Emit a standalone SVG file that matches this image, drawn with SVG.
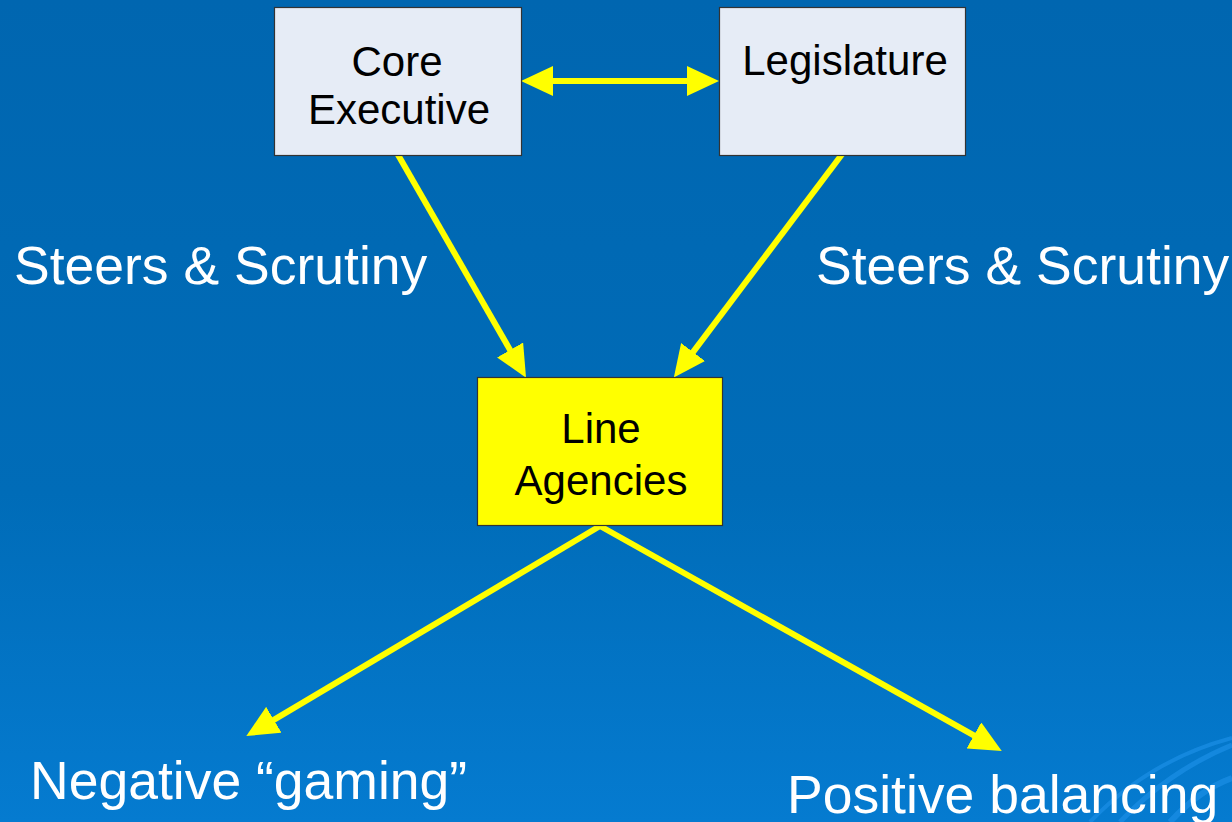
<svg xmlns="http://www.w3.org/2000/svg" width="1232" height="822" viewBox="0 0 1232 822">
<defs>
<linearGradient id="bg" x1="0" y1="0" x2="0" y2="1">
<stop offset="0" stop-color="#0066b0"/>
<stop offset="0.6" stop-color="#006cb8"/>
<stop offset="1" stop-color="#057bd0"/>
</linearGradient>
<radialGradient id="glow" cx="0.5" cy="1" r="0.5">
<stop offset="0" stop-color="#1a8fe0" stop-opacity="0.6"/>
<stop offset="1" stop-color="#1a8fe0" stop-opacity="0"/>
</radialGradient>
<marker id="ah" markerUnits="userSpaceOnUse" viewBox="0 0 32 30" markerWidth="32" markerHeight="30" refX="2" refY="15" orient="auto-start-reverse">
<path d="M0,0 L32,15 L0,30 z" fill="#ffff00"/>
</marker>
<style>
.box{stroke:#333333;stroke-width:1.2}
.grey{fill:#e6ecf6}
.yel{fill:#ffff00}
.bt{font-family:"Liberation Sans",Arial,sans-serif;font-size:42px;fill:#000000;text-anchor:middle}
.lt{font-family:"Liberation Sans",Arial,sans-serif;font-size:53.5px;fill:#ffffff}
.con{stroke:#ffff00;stroke-width:6;fill:none;marker-end:url(#ah)}
.sw{fill:none;stroke:#1b8fe6;stroke-opacity:0.7}
</style>
</defs>
<rect width="1232" height="822" fill="url(#bg)"/>
<ellipse cx="560" cy="822" rx="260" ry="20" fill="url(#glow)"/>
<g id="swoosh">
<path class="sw" stroke-width="5" d="M1120,822 C1150,790 1190,762 1232,745"/>
<path class="sw" stroke-width="4" d="M1090,822 C1130,780 1180,752 1232,738"/>
<path class="sw" stroke-width="6" d="M1170,822 C1190,800 1210,786 1232,778"/>
</g>
<g id="connectors">
<line class="con" x1="551" y1="81" x2="689" y2="81" style="marker-start:url(#ah)"/>
<line class="con" x1="397" y1="153" x2="511.1" y2="351.7"/>
<line class="con" x1="843" y1="153" x2="691.9" y2="353.6"/>
<line class="con" x1="600" y1="526" x2="272.1" y2="720.8"/>
<line class="con" x1="600" y1="526" x2="975.6" y2="736.4"/>
</g>
<g id="core-executive">
<rect class="box grey" x="274.5" y="7.5" width="247" height="148"/>
<text class="bt" x="397" y="76">Core</text>
<text class="bt" x="399" y="124">Executive</text>
</g>
<g id="legislature">
<rect class="box grey" x="719.5" y="7.5" width="246" height="148"/>
<text class="bt" x="845" y="75">Legislature</text>
</g>
<g id="line-agencies">
<rect class="box yel" x="477.5" y="377.5" width="245" height="148"/>
<text class="bt" x="601" y="443">Line</text>
<text class="bt" x="601" y="495">Agencies</text>
</g>
<g id="labels">
<text class="lt" x="14" y="284">Steers &amp; Scrutiny</text>
<text class="lt" x="816" y="284">Steers &amp; Scrutiny</text>
<text class="lt" x="30" y="799">Negative “gaming”</text>
<text class="lt" x="787" y="813">Positive balancing</text>
</g>
</svg>
